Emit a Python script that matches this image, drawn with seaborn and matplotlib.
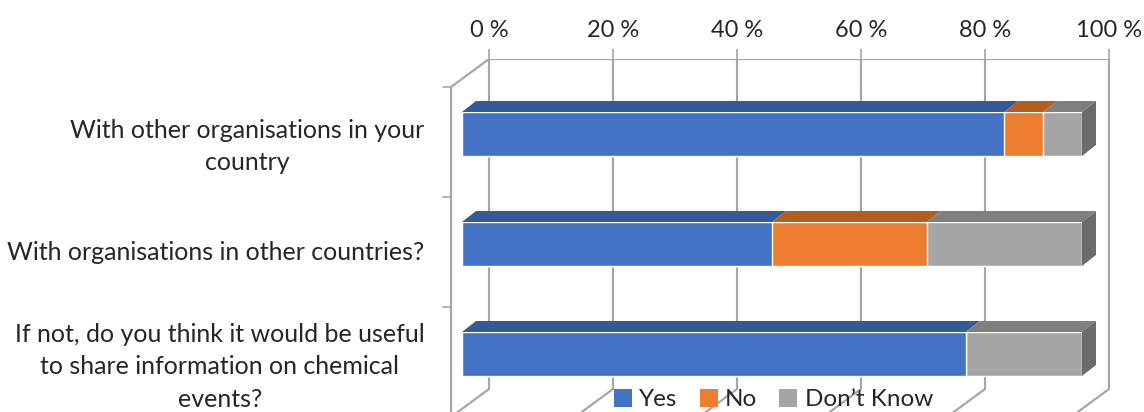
import seaborn as sns
import matplotlib.pyplot as plt
import matplotlib.transforms as mtransforms
from matplotlib.patches import Polygon, Patch
import numpy as np

# survey answers, percent of 16 respondents
questions = ["With other organisations in your\ncountry",
             "With organisations in other countries?",
             "If not, do you think it would be useful\nto share information on chemical\nevents?"]
yes = [87.5, 50.0, 81.25]
no = [6.25, 25.0, 0.0]
dont_know = [6.25, 25.0, 18.75]
series = ["Yes", "No", "Don\u2019t Know"]
ticks = [0, 20, 40, 60, 80, 100]

front = ["#4472C4", "#ED7D31", "#A5A5A5"]
top = ["#345A98", "#B35D21", "#7F7F7F"]
side = "#6B6B6B"
grid_c = "#A6A6A6"

sns.set_style("white")
plt.rcParams["font.family"] = ["Lato", "DejaVu Sans"]

W, H = 1144, 412
fig = plt.figure(figsize=(W / 100, H / 100), dpi=100)
ax = fig.add_axes([440 / W, 0, 1 - 440 / W, (412 - 59) / H])

# 3d depth (data units): wall depth and bar depth
px_x = 6.2
px_y = 110.0
wdx, wdy = 38 / px_x, -28 / px_y
bdx, bdy = 14 / px_x, -11 / px_y
back_off = 27 / px_x          # back wall 0 % vs bar front 0 %
bar_h = 0.4

vals = np.array([yes, no, dont_know])
cum = np.cumsum(vals, axis=0)
ypos = np.arange(len(questions))

# back wall + floor gridlines
y_top = (59 - 134) / px_y
y_floor = (389 - 134) / px_y
for t in ticks:
    xb = t + back_off
    ax.plot([xb, xb, xb - wdx * 1.2], [y_top, y_floor, y_floor - wdy * 1.2],
            color=grid_c, lw=1.6, zorder=1, solid_capstyle="butt", clip_on=False)
ax.plot([back_off, 100 + back_off], [y_top, y_top], color=grid_c, lw=1.6, zorder=1)
# left wall
x_lw = back_off - wdx
ax.plot([back_off, x_lw, x_lw], [y_top, y_top - wdy, 3], color=grid_c, lw=1.6, zorder=1)
for s in ypos - 0.43:
    ax.plot([x_lw - 8 / px_x, x_lw], [s, s], color=grid_c, lw=1.2, zorder=1)

# front faces, stacked (largest cumulative first)
for k in range(len(series) - 1, -1, -1):
    sns.barplot(x=cum[k], y=ypos, orient="h", color=front[k], saturation=1,
                width=bar_h, ax=ax, zorder=3, native_scale=True)

# top and side faces
for i in ypos:
    yt = i - bar_h / 2
    yb = i + bar_h / 2
    left = 0.0
    for k in range(len(series)):
        right = cum[k][i]
        if right > left:
            ax.add_patch(Polygon([(left, yt), (right, yt), (right + bdx, yt + bdy),
                                  (left + bdx, yt + bdy)], closed=True,
                                 facecolor=top[k], edgecolor="none", zorder=4))
        left = right
    ax.add_patch(Polygon([(left, yt), (left, yb), (left + bdx, yb + bdy),
                          (left + bdx, yt + bdy)], closed=True,
                         facecolor=side, edgecolor="none", zorder=4))

ax.set_xlim((440 - 462) / px_x, (W - 462) / px_x)
ax.set_ylim((412 - 134) / px_y, y_top)
for sp in ax.spines.values():
    sp.set_visible(False)

ax.xaxis.tick_top()
ax.set_xticks([t + back_off for t in ticks])
ax.set_xticklabels([f"{t} %" for t in ticks], fontsize=17)
ax.tick_params(axis="x", length=7, width=1.2, color=grid_c, pad=6)
ax.set_yticks(ypos)
ax.set_yticklabels(questions, fontsize=18, multialignment="center", linespacing=1.5)
ax.tick_params(axis="y", length=0, pad=11)
# category labels sit a little below the bar centres
shift = mtransforms.ScaledTranslation(0, -6 / 100, fig.dpi_scale_trans)
for lab in ax.get_yticklabels():
    lab.set_transform(lab.get_transform() + shift)
ax.set_xlabel("")
ax.set_ylabel("")
ax.grid(False)

handles = [Patch(facecolor=c, edgecolor="none") for c in front]
fig.legend(handles, series, loc="center", bbox_to_anchor=(0.676, 0.03), ncol=3,
           frameon=False, fontsize=17.5, handlelength=0.75, handleheight=0.75,
           handletextpad=0.3, columnspacing=0.9, borderpad=0)

fig.savefig("out.png", dpi=100)
